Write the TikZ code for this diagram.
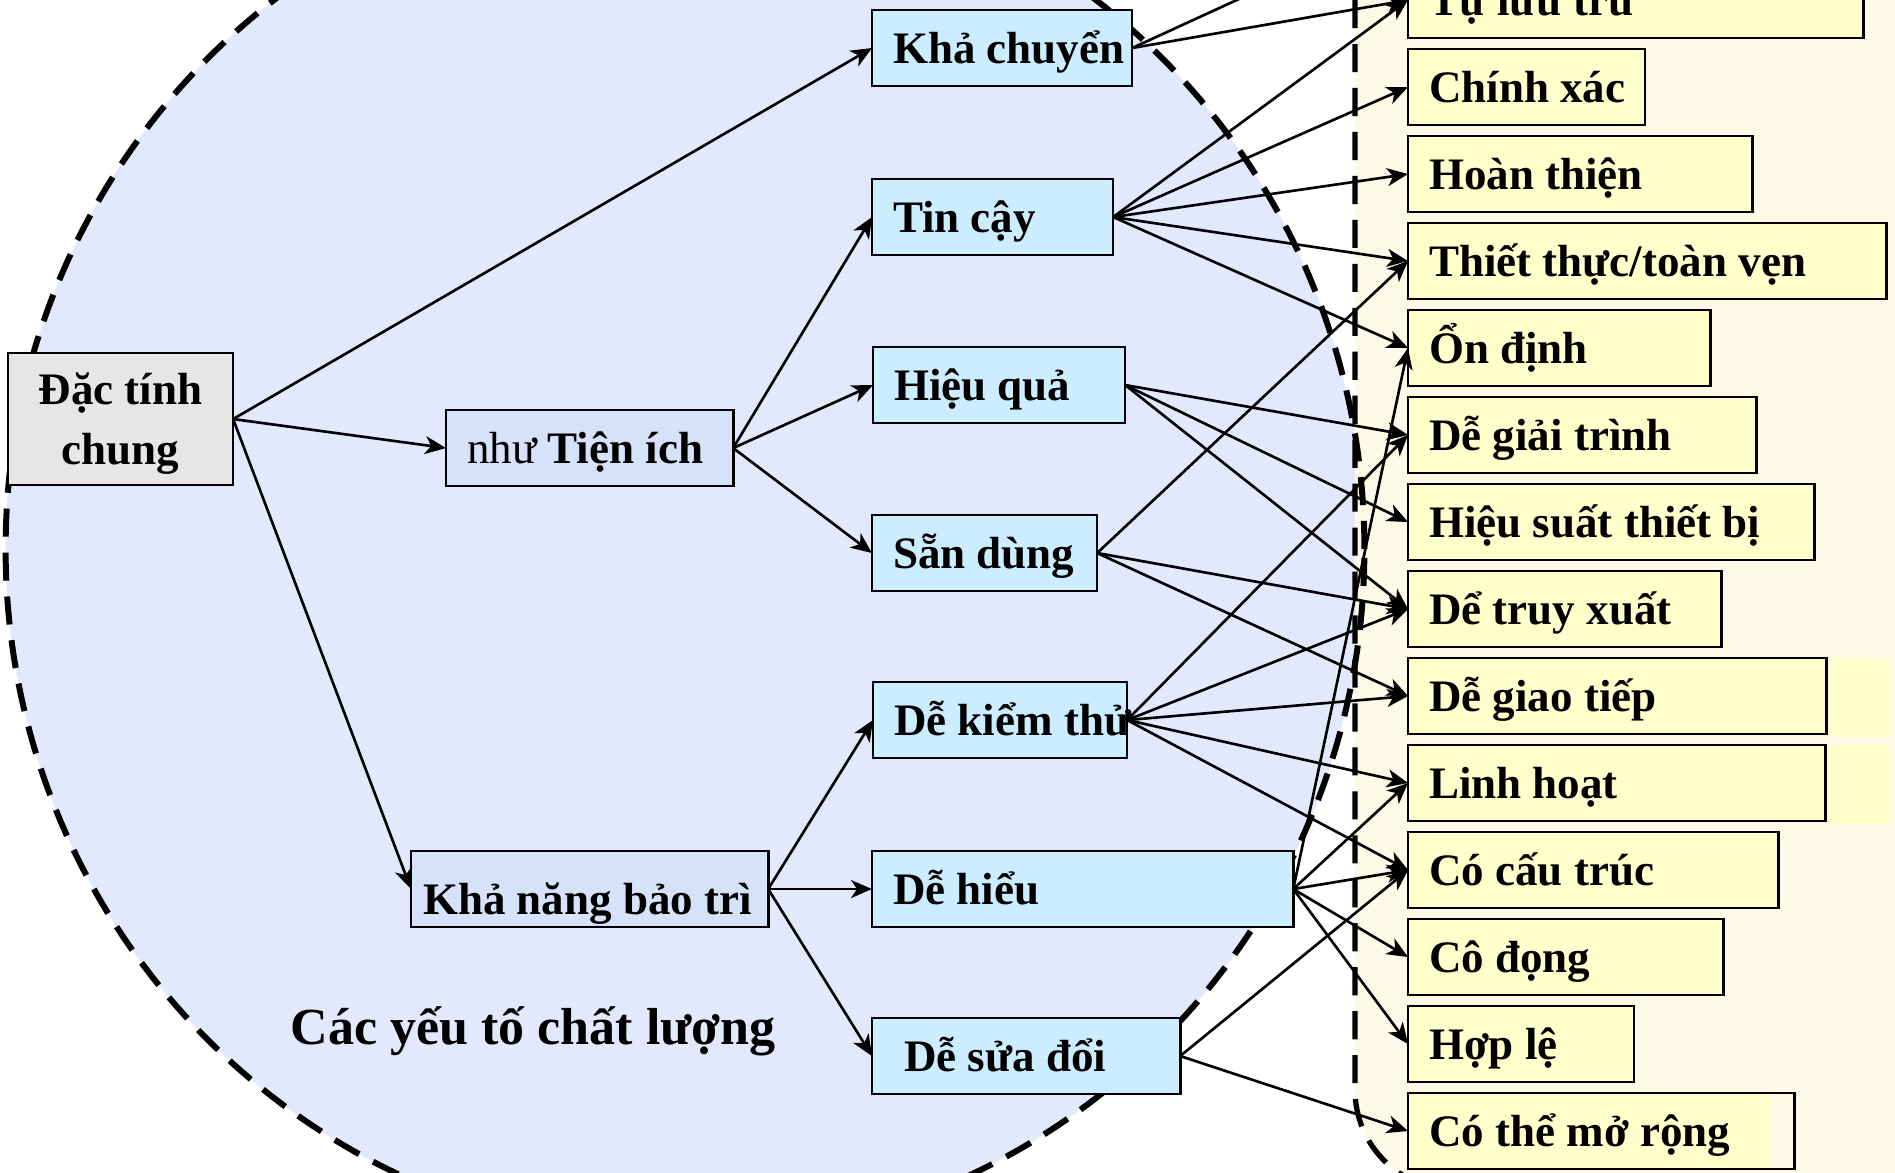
\documentclass[tikz,border=0pt]{standalone}
\usepackage{fontspec}
\setmainfont{Liberation Serif}
\usetikzlibrary{arrows.meta}

\definecolor{bgfill}{HTML}{E3E9FC}
\definecolor{zonefill}{HTML}{FCF9E6}
\definecolor{basefill}{HTML}{E6E6E6}
\definecolor{factfill}{HTML}{D6E1FA}
\definecolor{critfill}{HTML}{CCECFF}
\definecolor{attrfill}{HTML}{FFFFCC}

\tikzset{
  box/.style={draw=black, line width=0.75pt, anchor=north west, inner xsep=0.21cm, inner ysep=0pt,
    outer sep=0pt, minimum height=0.76cm, text height=8.7pt, text depth=0pt},
  % left aligned text in a box of fixed width
  lbox/.style={box, execute at begin node={\hbox to #1\bgroup}, execute at end node={\hss\egroup}},
  fact/.style={fill=factfill},
  crit/.style={fill=critfill},
  attr/.style={fill=attrfill},
  link/.style={line width=0.75pt, -{Stealth[length=0.21cm, width=0.18cm, inset=0.06cm]}},
  zone/.style={line width=1.5pt, dash pattern=on 8pt off 4.5pt},
}

\begin{document}
\begin{tikzpicture}[x=0.01cm, y=-0.01cm, font=\fontsize{12.8}{15.4}\selectfont\bfseries]
    \useasboundingbox (0,0) rectangle (1895,1172);
    \clip (0,0) rectangle (1895,1172);

    % the two areas
    \fill[bgfill] (685,549) ellipse [x radius=6.79cm, y radius=6.89cm];
    \fill[zonefill, rounded corners=1cm] (1355,-100) rectangle (2000,1190);
    \draw[zone, line width=1.7pt] (685,549) ellipse [x radius=6.79cm, y radius=6.89cm];
    \draw[zone, rounded corners=1cm] (1355,-100) rectangle (2000,1190);
    \fill[attrfill] (1829,658) rectangle (1890,737);
    \fill[attrfill] (1828,745) rectangle (1890,824);

    % general properties
    \node[box, fill=basefill, minimum width=2.25cm, minimum height=1.32cm, align=center, text height=25.8pt,
        font=\fontsize{12.8}{17.1}\selectfont\bfseries] (dactinh) at (8,353) {Đặc tính\\chung};
    \node[lbox=2.45cm, fact] (tienich) at (446,410) {{\mdseries như} Tiện ích};
    \node[lbox=3.33cm, fact, inner xsep=0.12cm, text height=14.4pt] (baotri) at (411,851) {Khả năng bảo trì};

    % quality factors
    \node[lbox=2.18cm, crit] (khachuyen) at (872,10) {Khả chuyển};
    \node[lbox=1.99cm, crit] (tincay) at (872,179) {Tin cậy};
    \node[lbox=2.10cm, crit] (hieuqua) at (873,347) {Hiệu quả};
    \node[lbox=1.83cm, crit] (sandung) at (872,515) {Sẵn dùng};
    \node[lbox=2.12cm, crit] (dekiemthu) at (873,682) {Dễ kiểm thử};
    \node[lbox=3.79cm, crit] (dehieu) at (872,851) {Dễ hiểu};
    \node[lbox=2.44cm, crit, inner xsep=0.32cm] (desuadoi) at (872,1018) {Dễ sửa đổi};

    % criteria
    \foreach \nm/\txt/\len [count=\i from -1] in {
        tuluutru/{Tự lưu trữ}/4.13cm, chinhxac/{Chính xác}/1.95cm, hoanthien/{Hoàn thiện}/3.02cm,
        thietthuc/{Thiết thực/toàn vẹn}/4.36cm, ondinh/{Ổn định}/2.60cm, degiaitrinh/{Dễ giải trình}/3.06cm,
        hieusuat/{Hiệu suất thiết bị}/3.64cm, detruyxuat/{Dể truy xuất}/2.71cm, degiaotiep/{Dễ giao tiếp}/3.76cm,
        linhhoat/{Linh hoạt}/3.75cm, cocautruc/{Có cấu trúc}/3.28cm, codong/{Cô đọng}/2.73cm, hople/{Hợp lệ}/1.84cm} {
        \node[lbox=\len, attr] (\nm) at (1408,49+87*\i) {\txt};
    }
    \node[lbox=3.44cm, attr, path picture={\fill[zonefill] ([xshift=-0.23cm]path picture bounding box.north east)
        rectangle (path picture bounding box.south east);}] (comorong) at (1408,1093) {Có thể mở rộng};

    \node[anchor=base west, inner sep=0pt, font=\fontsize{14.8}{17}\selectfont\bfseries] (title) at (290,1044)
        {Các yếu tố chất lượng};

    % connections
    \coordinate (offtop) at (1350,-52);
    \foreach \a/\b in {dactinh/khachuyen, dactinh/tienich, dactinh/baotri,
        tienich/tincay, tienich/hieuqua, tienich/sandung,
        baotri/dekiemthu, baotri/dehieu, baotri/desuadoi,
        khachuyen/tuluutru,
        tincay/tuluutru, tincay/chinhxac, tincay/hoanthien, tincay/thietthuc, tincay/ondinh,
        hieuqua/degiaitrinh, hieuqua/hieusuat, hieuqua/detruyxuat,
        sandung/thietthuc, sandung/detruyxuat, sandung/degiaotiep,
        dekiemthu/degiaitrinh, dekiemthu/detruyxuat, dekiemthu/degiaotiep, dekiemthu/linhhoat, dekiemthu/cocautruc,
        dehieu/ondinh, dehieu/linhhoat, dehieu/cocautruc, dehieu/codong, dehieu/hople,
        desuadoi/cocautruc, desuadoi/comorong} {
        \draw[link] (\a.east) -- (\b.west);
    }
    \draw[link] (khachuyen.east) -- (offtop);
\end{tikzpicture}
\end{document}
